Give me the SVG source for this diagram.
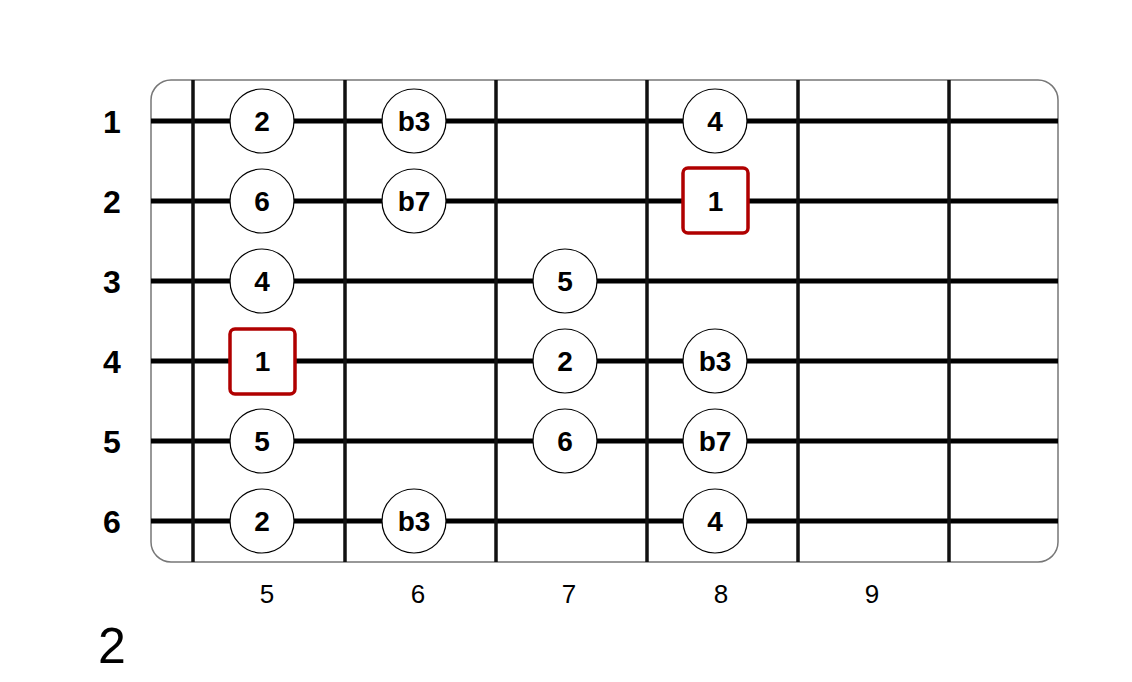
<svg xmlns="http://www.w3.org/2000/svg" width="1132" height="682" viewBox="0 0 1132 682">
<style>
.board{fill:#fff;stroke:#777;stroke-width:1.5}
.str{stroke:#000;stroke-width:5}
.fret{stroke:#111;stroke-width:3.5}
.note circle{fill:#fff;stroke:#000;stroke-width:1.2}
.root rect{fill:#fff;stroke:#b00000;stroke-width:3.5}
.nt{font-family:"Liberation Sans",Arial,sans-serif;font-weight:bold;font-size:28px;text-anchor:middle;fill:#000}
.sl{font-family:"Liberation Sans",Arial,sans-serif;font-weight:bold;font-size:32px;text-anchor:middle;fill:#000}
.fl{font-family:"Liberation Sans",Arial,sans-serif;font-size:26px;text-anchor:middle;fill:#000}
.big{font-family:"Liberation Sans",Arial,sans-serif;font-size:50px;fill:#000}
</style>
<rect width="1132" height="682" fill="#fff"/>
<g id="board">
<rect class="board" x="151" y="80" width="907" height="482" rx="20"/>
</g>
<g id="connectors">
<line class="str" x1="151" y1="121" x2="1058" y2="121"/>
<line class="str" x1="151" y1="201" x2="1058" y2="201"/>
<line class="str" x1="151" y1="281" x2="1058" y2="281"/>
<line class="str" x1="151" y1="361" x2="1058" y2="361"/>
<line class="str" x1="151" y1="441" x2="1058" y2="441"/>
<line class="str" x1="151" y1="521" x2="1058" y2="521"/>
<line class="fret" x1="193" y1="80" x2="193" y2="562"/>
<line class="fret" x1="345" y1="80" x2="345" y2="562"/>
<line class="fret" x1="496" y1="80" x2="496" y2="562"/>
<line class="fret" x1="647" y1="80" x2="647" y2="562"/>
<line class="fret" x1="798" y1="80" x2="798" y2="562"/>
<line class="fret" x1="949" y1="80" x2="949" y2="562"/>
</g>
<g id="string-labels">
<text class="sl" x="112" y="133">1</text>
<text class="sl" x="112" y="213">2</text>
<text class="sl" x="112" y="293">3</text>
<text class="sl" x="112" y="373">4</text>
<text class="sl" x="112" y="453">5</text>
<text class="sl" x="112" y="533">6</text>
</g>
<g id="fret-labels">
<text class="fl" x="267" y="603">5</text>
<text class="fl" x="418" y="603">6</text>
<text class="fl" x="569" y="603">7</text>
<text class="fl" x="721" y="603">8</text>
<text class="fl" x="872" y="603">9</text>
</g>
<g id="n-1-5" class="note"><circle cx="262" cy="121" r="32"/><text class="nt" x="262" y="131">2</text></g>
<g id="n-1-6" class="note"><circle cx="414" cy="121" r="32"/><text class="nt" x="414" y="131">b3</text></g>
<g id="n-1-8" class="note"><circle cx="715" cy="121" r="32"/><text class="nt" x="715" y="131">4</text></g>
<g id="n-2-5" class="note"><circle cx="262" cy="201" r="32"/><text class="nt" x="262" y="211">6</text></g>
<g id="n-2-6" class="note"><circle cx="414" cy="201" r="32"/><text class="nt" x="414" y="211">b7</text></g>
<g id="n-2-8" class="root"><rect x="683" y="168" width="65" height="65" rx="5"/><text class="nt" x="715.5" y="211">1</text></g>
<g id="n-3-5" class="note"><circle cx="262" cy="281" r="32"/><text class="nt" x="262" y="291">4</text></g>
<g id="n-3-7" class="note"><circle cx="565" cy="281" r="32"/><text class="nt" x="565" y="291">5</text></g>
<g id="n-4-5" class="root"><rect x="230" y="329" width="65" height="65" rx="5"/><text class="nt" x="262.5" y="371">1</text></g>
<g id="n-4-7" class="note"><circle cx="565" cy="361" r="32"/><text class="nt" x="565" y="371">2</text></g>
<g id="n-4-8" class="note"><circle cx="715" cy="361" r="32"/><text class="nt" x="715" y="371">b3</text></g>
<g id="n-5-5" class="note"><circle cx="262" cy="441" r="32"/><text class="nt" x="262" y="451">5</text></g>
<g id="n-5-7" class="note"><circle cx="565" cy="441" r="32"/><text class="nt" x="565" y="451">6</text></g>
<g id="n-5-8" class="note"><circle cx="715" cy="441" r="32"/><text class="nt" x="715" y="451">b7</text></g>
<g id="n-6-5" class="note"><circle cx="262" cy="521" r="32"/><text class="nt" x="262" y="531">2</text></g>
<g id="n-6-6" class="note"><circle cx="414" cy="521" r="32"/><text class="nt" x="414" y="531">b3</text></g>
<g id="n-6-8" class="note"><circle cx="715" cy="521" r="32"/><text class="nt" x="715" y="531">4</text></g>
<g id="title"><text class="big" x="98" y="663">2</text></g>
</svg>
